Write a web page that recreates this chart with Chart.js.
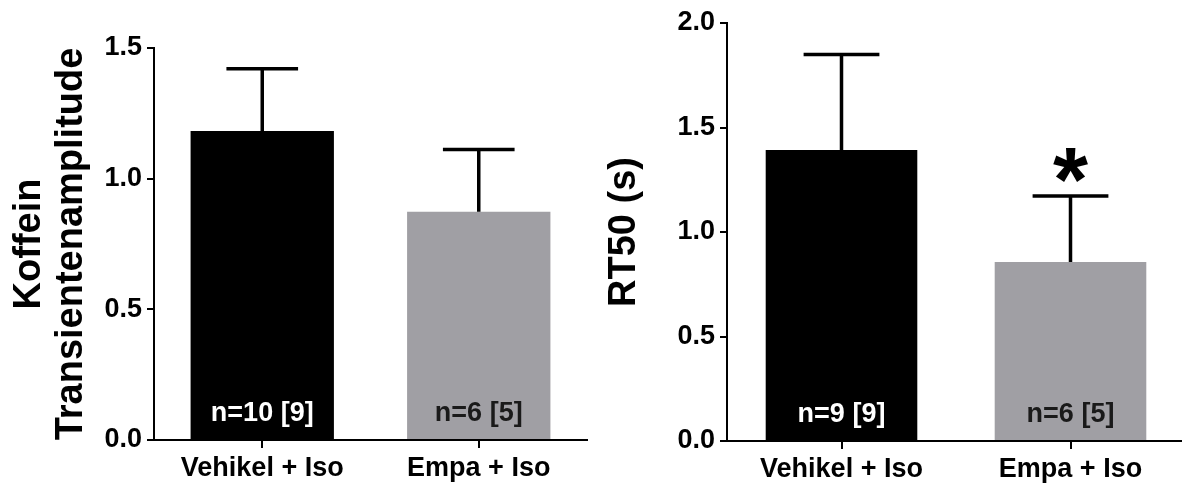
<!DOCTYPE html>
<html>
<head>
<meta charset="utf-8">
<script src="https://cdn.jsdelivr.net/npm/chart.js@4"></script>
<style>
  body { margin: 0; background: #fff; overflow: hidden; width: 1182px; height: 487px; position: relative; }
  canvas { position: absolute; top: 0; }
  #ampChart { left: 0; }
  #rtChart { left: 600px; }
</style>
</head>
<body>
<canvas id="ampChart" width="600" height="487"></canvas>
<canvas id="rtChart" width="586" height="487"></canvas>
<script>
// Data
const categories = ['Vehikel + Iso', 'Empa + Iso'];
const barColors = ['#000000', '#a09fa4'];
const nLabelColors = ['#ffffff', '#1a1a1a'];

const ampMean = [1.182, 0.873];
const ampSem = [0.239, 0.239];
const ampN = ['n=10 [9]', 'n=6 [5]'];
const ampStars = ['', ''];
const ampMax = 1.5;

const rtMean = [1.392, 0.856];
const rtSem = [0.457, 0.316];
const rtN = ['n=9 [9]', 'n=6 [5]'];
const rtStars = ['', '*'];
const rtMax = 2.0;

const tickStep = 0.5;
const FONT = "'Liberation Sans', Arial, sans-serif";

// Error bars (upper only), n labels and significance stars
const errorBarPlugin = {
  id: 'errorBars',
  afterDatasetsDraw(chart, args, opts) {
    const ctx = chart.ctx;
    const yScale = chart.scales.y;
    const values = chart.data.datasets[0].data;
    chart.getDatasetMeta(0).data.forEach((bar, i) => {
      const top = yScale.getPixelForValue(values[i] + opts.sem[i]);
      const half = bar.width / 4;
      ctx.save();
      ctx.strokeStyle = '#000';
      ctx.lineWidth = 3.5;
      ctx.beginPath();
      ctx.moveTo(bar.x, bar.y);
      ctx.lineTo(bar.x, top);
      ctx.moveTo(bar.x - half, top);
      ctx.lineTo(bar.x + half, top);
      ctx.stroke();

      ctx.font = 'bold 27px ' + FONT;
      ctx.fillStyle = nLabelColors[i];
      ctx.textAlign = 'center';
      ctx.textBaseline = 'alphabetic';
      ctx.fillText(opts.nLabels[i], bar.x, bar.base - 18);

      if (opts.stars[i]) {
        ctx.font = 'bold 90px ' + FONT;
        ctx.fillStyle = '#000';
        const m = ctx.measureText(opts.stars[i]);
        ctx.fillText(opts.stars[i], bar.x, top - 14 - m.actualBoundingBoxDescent);
      }
      ctx.restore();
    });
  }
};

function makeChart(id, title, values, sem, nLabels, stars, maxY, pad, yWidth, xHeight) {
  return new Chart(document.getElementById(id), {
    type: 'bar',
    data: {
      labels: categories,
      datasets: [{
        data: values,
        backgroundColor: barColors,
        borderWidth: 0,
        barPercentage: 0.662,
        categoryPercentage: 1
      }]
    },
    options: {
      responsive: false,
      animation: false,
      events: [],
      layout: { padding: pad },
      plugins: {
        legend: { display: false },
        tooltip: { enabled: false },
        errorBars: { sem: sem, nLabels: nLabels, stars: stars }
      },
      scales: {
        x: {
          grid: { offset: false, drawOnChartArea: false, drawTicks: true, tickLength: 8, color: '#000', lineWidth: 2 },
          border: { display: true, color: '#000', width: 2 },
          ticks: { color: '#000', padding: 4, font: { family: FONT, size: 27, weight: 'bold', lineHeight: 1.2 } },
          afterFit: (scale) => { scale.height = xHeight; }
        },
        y: {
          min: 0,
          max: maxY,
          grid: { drawOnChartArea: false, drawTicks: true, tickLength: 7, color: '#000', lineWidth: 2 },
          border: { display: true, color: '#000', width: 2 },
          ticks: {
            stepSize: tickStep,
            color: '#000',
            padding: 5,
            font: { family: FONT, size: 27, weight: 'bold' },
            callback: (v) => v.toFixed(1)
          },
          title: {
            display: true,
            text: title,
            color: '#000',
            padding: 0,
            font: { family: FONT, size: 38, weight: 'bold', lineHeight: 1.12 }
          },
          afterFit: (scale) => { scale.width = yWidth; }
        }
      }
    },
    plugins: [errorBarPlugin]
  });
}

makeChart('ampChart', ['Koffein', 'Transientenamplitude'], ampMean, ampSem, ampN, ampStars, ampMax,
  { left: 8, right: 13, top: 48, bottom: 0 }, 146, 47);
makeChart('rtChart', 'RT50 (s)', rtMean, rtSem, rtN, rtStars, rtMax,
  { left: 3, right: 1, top: 23, bottom: 0 }, 124, 46);
</script>
</body>
</html>
